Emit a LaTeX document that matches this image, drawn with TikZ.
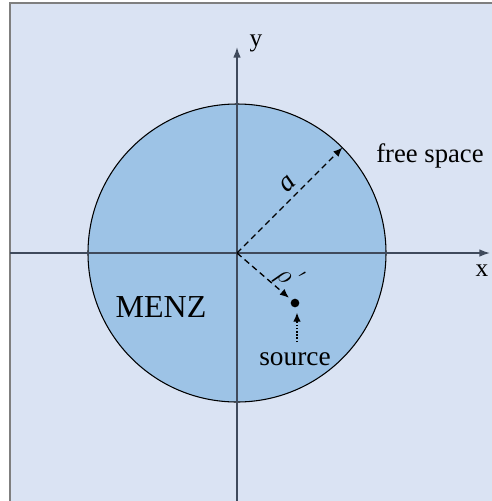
\documentclass[tikz,border=0pt]{standalone}
\usepackage{fontspec}
\setmainfont{Liberation Serif}
\usetikzlibrary{arrows.meta,positioning,calc}
\definecolor{fsback}{HTML}{DAE3F3}
\definecolor{fsframe}{HTML}{7F7F7F}
\definecolor{menzfill}{HTML}{9DC3E6}
\definecolor{axline}{HTML}{3F4A5C}
\tikzset{
  axisline/.style={draw=axline, line width=1.1pt, -{Latex[length=2.8mm,width=2mm]}},
  radline/.style={draw=black, line width=1pt, dash pattern=on 4.5pt off 3pt,
                  -{Latex[length=2.4mm,width=2mm]}},
  lbl/.style={inner sep=0pt, font=\fontsize{19}{22}\selectfont},
}
\begin{document}
\begin{tikzpicture}[x=0.75pt,y=-0.75pt]
\useasboundingbox (0,0) rectangle (492,501);
% --- background and frame
\fill[fsback] (10,3) rectangle (492,501);
\draw[fsframe,line width=1.5pt] (10,501) -- (10,3) -- (492,3);
% --- MENZ region
\coordinate (o) at (237,253);
\draw[fill=menzfill,line width=0.8pt] (o) circle[radius=149];
% --- axes
\coordinate (ybot) at (237,501);
\coordinate (ytop) at (237,47);
\coordinate (xleft) at (10,253);
\coordinate (xright) at (490,253);
\draw[axisline] (ybot) -- (ytop);
\draw[axisline] (xleft) -- (xright);
\node[lbl] (ylab) at (256,43) {y};
\node[lbl] (xlab) at (482,271) {x};
% --- radius and source position
\coordinate (rim) at ($(o)+(-45:149)$);
\draw[radline] (o) -- (rim);
\node[lbl,rotate=45,font=\fontsize{21}{24}\selectfont] (alab) at (288,184) {\itshape a};
\node[circle,fill=black,inner sep=0pt,minimum size=6.5pt] (src) at (295,303) {};
\draw[radline,shorten >=2.5pt] (o) -- (src);
\node[lbl,rotate=-41,font=\fontsize{22}{24}\selectfont] (rholab) at (282,279) {$\rho$};
\node[lbl,rotate=-41,font=\fontsize{15}{18}\selectfont] (primelab) at (300,278) {$'$};
\node[lbl,font=\fontsize{20.5}{24}\selectfont] (srclab) at (295,359) {source};
\draw[line width=1pt,dash pattern=on 1.2pt off 1.2pt,-{Latex[length=2.4mm,width=2mm]}]
  (srclab.north) ++(2,-10) coordinate (stail) -- ($(src.south)+(2,5)$);
\node[lbl,font=\fontsize{20}{24}\selectfont] (free) at (430,156) {free space};
\node[lbl,font=\fontsize{24}{28}\selectfont] (menz) at (161,307) {MENZ};
\end{tikzpicture}
\end{document}
